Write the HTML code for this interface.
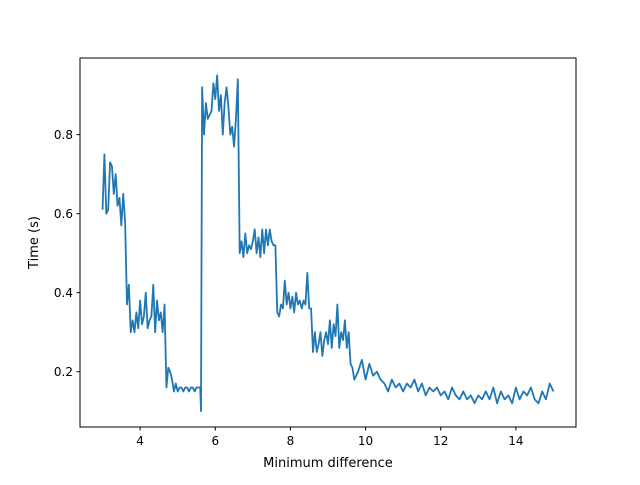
<!DOCTYPE html>
<html><head><meta charset="utf-8"><style>
body{margin:0;background:#fff;}
svg text{font-family:"DejaVu Sans","Liberation Sans",sans-serif;fill:#000;}
</style></head><body>
<svg id="chart" width="640" height="480" xmlns="http://www.w3.org/2000/svg">
<rect width="640" height="480" fill="#fff"/>
<g id="plot"></g>
<rect x="80" y="58" width="496" height="369" fill="none" stroke="#000" stroke-width="1"/>
<g id="xticks"></g><g id="yticks"></g>
<text x="328" y="467" font-size="13" text-anchor="middle">Minimum difference</text>
<text x="0" y="0" font-size="13" text-anchor="middle" transform="translate(38,242.5) rotate(-90)">Time (s)</text>
</svg>
<script>
const xs = [3.0,3.05,3.1,3.15,3.2,3.25,3.3,3.35,3.4,3.45,3.5,3.55,3.6,3.65,3.7,3.75,3.8,3.85,3.9,3.95,4.0,4.05,4.1,4.15,4.2,4.25,4.3,4.35,4.4,4.45,4.5,4.55,4.6,4.65,4.7,4.75,4.8,4.85,4.9,4.95,5.0,5.05,5.1,5.15,5.2,5.25,5.3,5.35,5.4,5.45,5.5,5.55,5.6,5.62,5.65,5.7,5.75,5.8,5.85,5.9,5.95,6.0,6.05,6.1,6.15,6.2,6.25,6.3,6.35,6.4,6.45,6.5,6.55,6.6,6.65,6.7,6.75,6.8,6.85,6.9,6.95,7.0,7.05,7.1,7.15,7.2,7.25,7.3,7.35,7.4,7.45,7.5,7.55,7.6,7.65,7.7,7.75,7.8,7.85,7.9,7.95,8.0,8.05,8.1,8.15,8.2,8.25,8.3,8.35,8.4,8.45,8.5,8.55,8.6,8.65,8.7,8.75,8.8,8.85,8.9,8.95,9.0,9.05,9.1,9.15,9.2,9.25,9.3,9.35,9.4,9.45,9.5,9.55,9.6,9.65,9.7,9.8,9.9,10.0,10.1,10.2,10.3,10.4,10.5,10.6,10.7,10.8,10.9,11.0,11.1,11.2,11.3,11.4,11.5,11.6,11.7,11.8,11.9,12.0,12.1,12.2,12.3,12.4,12.5,12.6,12.7,12.8,12.9,13.0,13.1,13.2,13.3,13.4,13.5,13.6,13.7,13.8,13.9,14.0,14.1,14.2,14.3,14.4,14.5,14.6,14.7,14.8,14.9,15.0];
const ys = [0.61,0.75,0.60,0.61,0.73,0.72,0.65,0.70,0.62,0.64,0.57,0.65,0.58,0.37,0.42,0.30,0.33,0.30,0.35,0.31,0.38,0.32,0.34,0.40,0.31,0.33,0.34,0.42,0.30,0.38,0.33,0.35,0.30,0.37,0.16,0.21,0.20,0.18,0.15,0.17,0.15,0.16,0.16,0.15,0.16,0.16,0.15,0.16,0.16,0.15,0.16,0.16,0.16,0.10,0.92,0.80,0.88,0.84,0.85,0.86,0.93,0.89,0.95,0.86,0.90,0.80,0.88,0.92,0.87,0.80,0.82,0.77,0.84,0.94,0.50,0.53,0.49,0.55,0.50,0.52,0.51,0.53,0.56,0.50,0.54,0.49,0.56,0.50,0.56,0.52,0.56,0.53,0.52,0.52,0.35,0.34,0.37,0.36,0.43,0.37,0.40,0.36,0.39,0.35,0.40,0.37,0.38,0.36,0.38,0.37,0.45,0.36,0.36,0.25,0.30,0.25,0.27,0.30,0.24,0.28,0.30,0.27,0.33,0.26,0.32,0.29,0.37,0.26,0.30,0.28,0.33,0.26,0.30,0.22,0.21,0.18,0.20,0.23,0.18,0.22,0.19,0.20,0.18,0.17,0.15,0.18,0.16,0.17,0.15,0.17,0.16,0.18,0.15,0.17,0.14,0.16,0.15,0.16,0.14,0.15,0.13,0.16,0.14,0.13,0.15,0.13,0.14,0.12,0.14,0.13,0.15,0.13,0.16,0.12,0.15,0.13,0.14,0.12,0.16,0.13,0.15,0.14,0.16,0.13,0.12,0.15,0.13,0.17,0.15,0.16];
const xTickVals = [4,6,8,10,12,14];
const xTickLabels = ["4","6","8","10","12","14"];
const yTickVals = [0.2,0.4,0.6,0.8];
const yTickLabels = ["0.2","0.4","0.6","0.8"];

const L=80,R=576,T=58,B=427;
const xMin=2.4,xMax=15.6,yMin=0.06,yMax=0.994;
const sx=v=>L+(v-xMin)/(xMax-xMin)*(R-L);
const sy=v=>B-(v-yMin)/(yMax-yMin)*(B-T);
const NS='http://www.w3.org/2000/svg';

const plot=document.getElementById('plot');
const line=document.createElementNS(NS,'polyline');
line.setAttribute('points',xs.map((x,i)=>sx(x).toFixed(2)+','+sy(ys[i]).toFixed(2)).join(' '));
line.setAttribute('fill','none');line.setAttribute('stroke','#1f77b4');
line.setAttribute('stroke-width','1.8');line.setAttribute('stroke-linejoin','round');


plot.appendChild(line);

const xg=document.getElementById('xticks');
xTickVals.forEach((v,i)=>{
  const t=document.createElementNS(NS,'line');
  t.setAttribute('x1',sx(v));t.setAttribute('x2',sx(v));t.setAttribute('y1',B);t.setAttribute('y2',B+3.5);t.setAttribute('stroke','#000');
  
  
  xg.appendChild(t);
  const s=document.createElementNS(NS,'text');
  s.setAttribute('x',sx(v));s.setAttribute('y',B+18);s.setAttribute('font-size','12');s.setAttribute('text-anchor','middle');
  s.textContent=xTickLabels[i];
  
  
  xg.appendChild(s);
});
const yg=document.getElementById('yticks');
yTickVals.forEach((v,i)=>{
  const t=document.createElementNS(NS,'line');
  t.setAttribute('x1',L-3.5);t.setAttribute('x2',L);t.setAttribute('y1',sy(v));t.setAttribute('y2',sy(v));t.setAttribute('stroke','#000');
  
  
  yg.appendChild(t);
  const s=document.createElementNS(NS,'text');
  s.setAttribute('x',L-7);s.setAttribute('y',sy(v)+4.5);s.setAttribute('font-size','12');s.setAttribute('text-anchor','end');
  s.textContent=yTickLabels[i];
  
  
  yg.appendChild(s);
});
</script>
</body></html>
